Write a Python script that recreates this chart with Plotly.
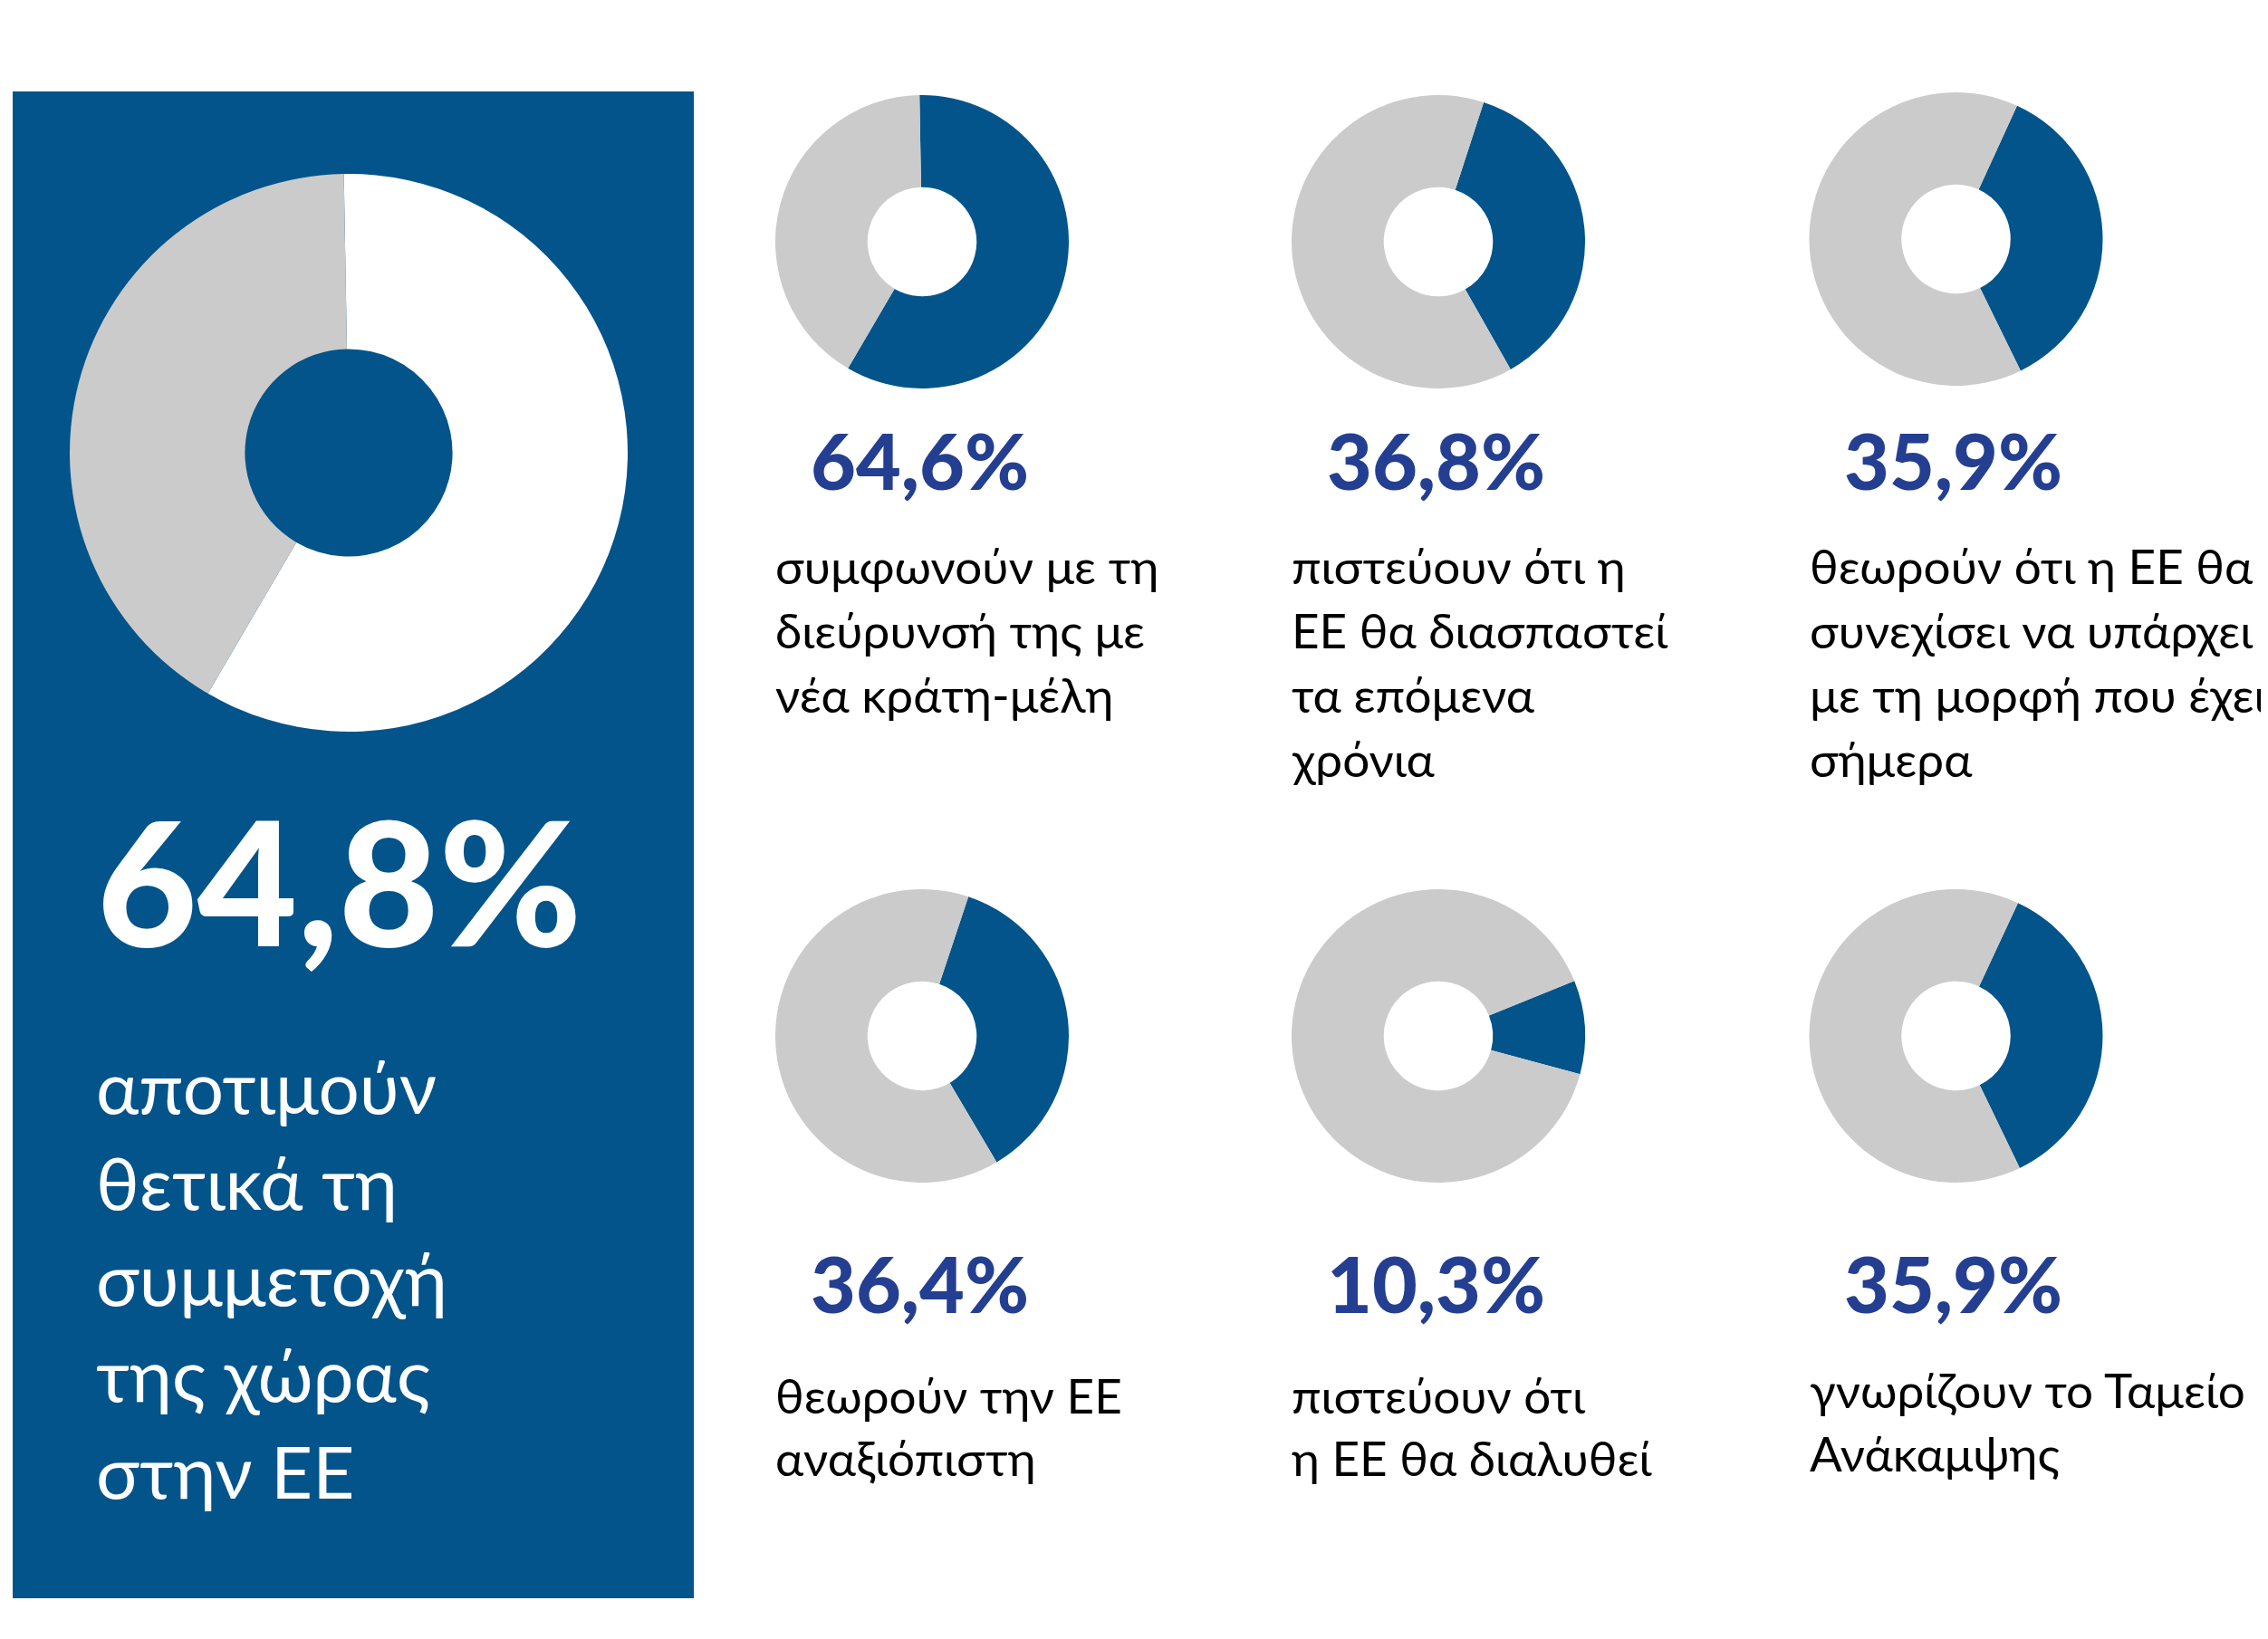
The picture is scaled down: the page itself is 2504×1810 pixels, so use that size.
import plotly.graph_objects as go

W, H = 2504, 1810

# ---------------- data ----------------
headline_label = "64,8%"
headline_share_drawn = 58.7          # white arc share as drawn in the big donut
headline_text = ["αποτιμούν", "θετικά τη", "συμμετοχή", "της χώρας", "στην ΕΕ"]

item_labels = ["64,6%", "36,8%", "35,9%", "36,4%", "10,3%", "35,9%"]
item_shares_drawn = [58.7, 36.8, 35.9, 36.4, 10.3, 35.9]   # blue arc shares as drawn
item_texts = [
    ["συμφωνούν με τη", "διεύρυνσή της με", "νέα κράτη-μέλη"],
    ["πιστεύουν ότι η", "ΕΕ θα διασπαστεί", "τα επόμενα", "χρόνια"],
    ["θεωρούν ότι η ΕΕ θα", "συνεχίσει να υπάρχει", "με τη μορφή που έχει", "σήμερα"],
    ["θεωρούν την ΕΕ", "αναξιόπιστη"],
    ["πιστεύουν ότι", "η ΕΕ θα διαλυθεί"],
    ["γνωρίζουν το Ταμείο", "Ανάκαμψης"],
]

# ---------------- styles / layout constants ----------------
BLUE = "#02548A"
GRAY = "#CBCBCB"
NAVY = "#243F91"
BODY_FONT = "Lato, 'Noto Sans', sans-serif"
K_BASE = 0.387   # baseline offset from text-box middle, in em
OFF = 8          # page offset (body margin) to compensate

big_center = (385, 500)
big_r = 308
small_r = 162
hole = 0.372
small_centers = [(1018, 267), (1588, 267), (2159.5, 264),
                 (1018, 1144), (1588, 1144), (2159.5, 1144)]
rotations = [-1, 18, 24.6, 18.4, 68, 25]
text_left = [854, 1424, 1996, 854, 1424, 1996]
pct_baseline = [541, 541, 541, 1449.5, 1449.5, 1449.5]
desc_first_baseline = [645.5, 645.5, 645.5, 1561, 1561, 1555]
desc_step = [71, 71, 71, 69.5, 69.5, 70]
DESC_FS = 53
PCT_FS = 86
BIG_FS = 191


def px(x):
    return (x - OFF) / W


def py(y):
    return 1 - (y - OFF) / H


def dom(cx, cy, r):
    return dict(x=[px(cx - r), px(cx + r)], y=[py(cy + r), py(cy - r)])


def mid_y(baseline, fs):
    return py(baseline - K_BASE * fs)


fig = go.Figure()

# big donut
fig.add_trace(go.Pie(
    values=[headline_share_drawn, 100 - headline_share_drawn],
    marker=dict(colors=["#FFFFFF", GRAY], line=dict(width=0)),
    hole=hole, sort=False, direction="clockwise", rotation=-1,
    textinfo="none", hoverinfo="skip", showlegend=False,
    domain=dom(big_center[0], big_center[1], big_r),
))

# small donuts
for i, share in enumerate(item_shares_drawn):
    cx, cy = small_centers[i]
    fig.add_trace(go.Pie(
        values=[share, 100 - share],
        marker=dict(colors=[BLUE, GRAY], line=dict(width=0)),
        hole=hole, sort=False, direction="clockwise", rotation=rotations[i],
        textinfo="none", hoverinfo="skip", showlegend=False,
        domain=dom(cx, cy, small_r),
    ))

annotations = []
# headline number + text in the panel
annotations.append(dict(
    text=headline_label, x=px(105), y=mid_y(1045, BIG_FS), xref="paper", yref="paper",
    xanchor="left", yanchor="middle", showarrow=False,
    font=dict(family=BODY_FONT, size=BIG_FS, color="#FFFFFF", weight=900),
))
for j, line in enumerate(headline_text):
    annotations.append(dict(
        text=line, x=px(104), y=mid_y(1229.5 + 106.3 * j, 80), xref="paper", yref="paper",
        xanchor="left", yanchor="middle", showarrow=False,
        font=dict(family=BODY_FONT, size=80, color="#FFFFFF"),
    ))

for i, lab in enumerate(item_labels):
    cx, cy = small_centers[i]
    annotations.append(dict(
        text=lab, x=px(cx - 3), y=mid_y(pct_baseline[i], PCT_FS), xref="paper", yref="paper",
        xanchor="center", yanchor="middle", showarrow=False,
        font=dict(family=BODY_FONT, size=PCT_FS, color=NAVY, weight=900),
    ))
    for j, line in enumerate(item_texts[i]):
        annotations.append(dict(
            text=line, x=px(text_left[i]),
            y=mid_y(desc_first_baseline[i] + desc_step[i] * j, DESC_FS),
            xref="paper", yref="paper", xanchor="left", yanchor="middle", showarrow=False,
            font=dict(family=BODY_FONT, size=DESC_FS, color="#000000"),
        ))

fig.update_layout(
    width=W, height=H, margin=dict(l=0, r=0, t=0, b=0),
    paper_bgcolor="#FFFFFF", plot_bgcolor="#FFFFFF",
    shapes=[dict(type="rect", xref="paper", yref="paper", layer="below",
                 x0=px(14), x1=px(766), y0=py(1765), y1=py(101),
                 fillcolor=BLUE, line=dict(width=0))],
    annotations=annotations,
)

fig.write_html("out.html")
